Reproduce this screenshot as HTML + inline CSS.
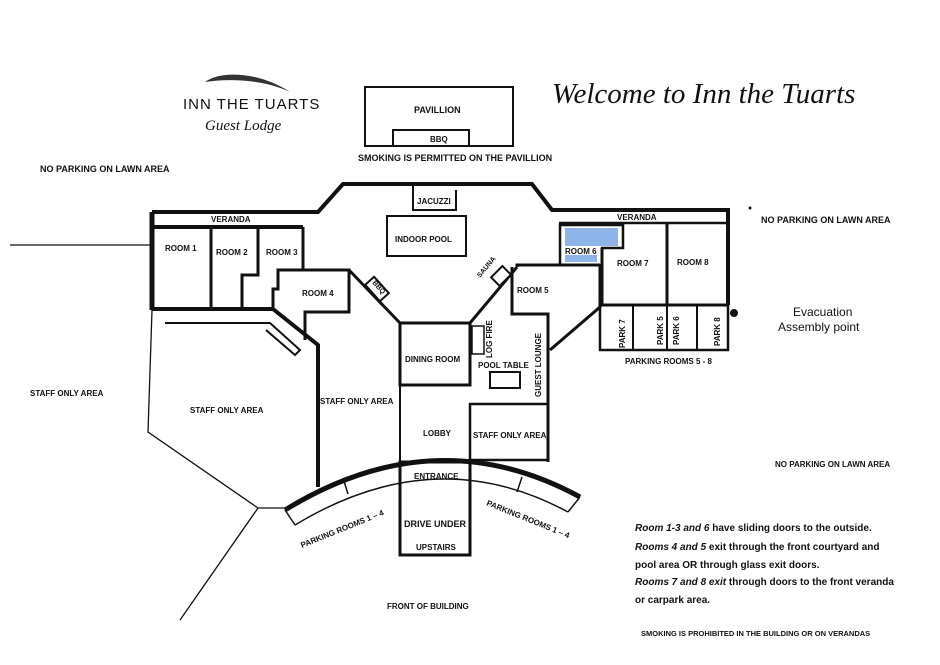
<!DOCTYPE html>
<html><head><meta charset="utf-8"><style>
html,body{margin:0;padding:0;background:#fff}
svg{display:block}
text{font-family:"Liberation Sans",sans-serif;font-weight:bold;fill:#111}
</style></head><body>
<svg width="940" height="665" viewBox="0 0 940 665" xmlns="http://www.w3.org/2000/svg">
<rect x="565" y="228" width="53" height="18" fill="#8fb4ea"/>
<rect x="565" y="255" width="32" height="7" fill="#8fb4ea"/>
<g fill="none" stroke="#111" stroke-linejoin="miter">
<path d="M152,212 L318,212 L343,184 L532,184 L552,210 L728,210 L728,305" stroke-width="4"/>
<path d="M152,212 L152,310" stroke-width="5"/>
<line x1="10" y1="245" x2="152" y2="245" stroke-width="1.2"/>
<path d="M152,227 L303,227" stroke-width="4"/>
<path d="M152,309 L273,309" stroke-width="4"/>
<line x1="211" y1="227" x2="211" y2="309" stroke-width="3"/>
<path d="M258,227 L258,275 L242,275 L242,309" stroke-width="3"/>
<path d="M303,227 L303,270 L278,270 L278,289 L273,289 L273,309" stroke-width="3"/>
<path d="M303,270 L349,270 L349,312 L305,312 L305,340" stroke-width="3"/>
<path d="M349,270 L400,323" stroke-width="3"/>
<rect x="-11" y="-6" width="22" height="12" transform="translate(377,289) rotate(48)" stroke-width="2" fill="#fff"/>
<path d="M273,309 L318,345 L318,487" stroke-width="4"/>
<path d="M165,323 L270,323 L300,350 L295,355 L266,330" stroke-width="2"/>
<path d="M152,310 L148,432 L258,508 L285,508" stroke-width="1.3"/>
<path d="M258,508 L180,620" stroke-width="1.3"/>
<path d="M413,184 L413,210 L456,210 L456,190" stroke-width="2"/>
<rect x="387" y="216" width="79" height="40" stroke-width="2"/>
<rect x="400" y="323" width="70" height="62" stroke-width="3"/>
<line x1="400" y1="385" x2="400" y2="462" stroke-width="2"/>
<rect x="470" y="404" width="78" height="56" stroke-width="2.5"/>
<rect x="472" y="326" width="12" height="28" stroke-width="1.5"/>
<rect x="490" y="372" width="30" height="16" stroke-width="2"/>
<path d="M470,323 L517,267" stroke-width="3"/>
<rect x="-8" y="-6" width="16" height="12" transform="translate(501,276) rotate(-45)" stroke-width="2" fill="#fff"/>
<path d="M517,267 L517,265 L600,265" stroke-width="3"/>
<path d="M512,267 L512,314 L548,314 L548,462" stroke-width="3"/>
<path d="M600,265 L600,307 L550,350" stroke-width="3"/>
<path d="M559,223 L728,223" stroke-width="2.5"/>
<path d="M560,225 L623,225 L623,248 L602,248 L602,265 L560,265 Z" stroke-width="2.5"/>
<line x1="602" y1="248" x2="602" y2="305" stroke-width="3"/>
<line x1="667" y1="223" x2="667" y2="305" stroke-width="3"/>
<line x1="600" y1="305" x2="728" y2="305" stroke-width="3"/>
<rect x="600" y="305" width="128" height="45" stroke-width="2.5"/>
<line x1="633" y1="305" x2="633" y2="350" stroke-width="2"/>
<line x1="667" y1="305" x2="667" y2="350" stroke-width="2"/>
<line x1="697" y1="305" x2="697" y2="350" stroke-width="2"/>
<path d="M285,510 Q435,418 580,497" stroke-width="5"/>
<path d="M295,525 Q435,440 568,512" stroke-width="1.5"/>
<line x1="285" y1="510" x2="295" y2="525" stroke-width="1.5"/>
<line x1="580" y1="497" x2="568" y2="512" stroke-width="1.5"/>
<line x1="343" y1="478" x2="348" y2="494" stroke-width="1.5"/>
<line x1="522" y1="477" x2="517" y2="492" stroke-width="1.5"/>
<rect x="400" y="462" width="70" height="93" stroke-width="3"/>
<rect x="365" y="87" width="148" height="59" stroke-width="2"/>
<rect x="393" y="130" width="76" height="16" stroke-width="2"/>
</g>
<circle cx="734" cy="313" r="4" fill="#111"/>
<circle cx="750" cy="208" r="1.5" fill="#111"/>
<path d="M205,82 C220,70 260,72 290,92 C265,80 230,78 205,82 Z" fill="#333"/>
<text x="183" y="109" font-size="15" style="font-weight:normal;letter-spacing:1px">INN THE TUARTS</text>
<text x="205" y="130" font-size="15" font-style="italic" style="font-weight:normal;font-family:'Liberation Serif',serif" fill="#555">Guest Lodge</text>
<text x="552" y="103" font-size="29" font-style="italic" style="font-family:'Liberation Serif',serif;font-weight:normal">Welcome to Inn the Tuarts</text>
<g font-size="9">
<text x="414" y="113">PAVILLION</text>
<text x="430" y="142" font-size="8">BBQ</text>
<text x="358" y="161">SMOKING IS PERMITTED ON THE PAVILLION</text>
<text x="40" y="172">NO PARKING ON LAWN AREA</text>
<text x="761" y="223">NO PARKING ON LAWN AREA</text>
<text x="417" y="204" font-size="8">JACUZZI</text>
<text x="395" y="242" font-size="8">INDOOR POOL</text>
<text x="211" y="222" font-size="8">VERANDA</text>
<text x="617" y="220" font-size="8">VERANDA</text>
<text x="165" y="251" font-size="8">ROOM 1</text>
<text x="216" y="255" font-size="8">ROOM 2</text>
<text x="266" y="255" font-size="8">ROOM 3</text>
<text x="302" y="296" font-size="8">ROOM 4</text>
<text x="517" y="293" font-size="8">ROOM 5</text>
<text x="565" y="254" font-size="8">ROOM 6</text>
<text x="617" y="266" font-size="8">ROOM 7</text>
<text x="677" y="265" font-size="8">ROOM 8</text>
<text x="405" y="362" font-size="8">DINING ROOM</text>
<text x="478" y="368" font-size="8">POOL TABLE</text>
<text x="320" y="404" font-size="8">STAFF ONLY AREA</text>
<text x="190" y="413" font-size="8">STAFF ONLY AREA</text>
<text x="30" y="396" font-size="8">STAFF ONLY AREA</text>
<text x="423" y="436" font-size="8">LOBBY</text>
<text x="473" y="438" font-size="8">STAFF ONLY AREA</text>
<text x="414" y="479" font-size="8">ENTRANCE</text>
<text x="404" y="527" font-size="9">DRIVE UNDER</text>
<text x="416" y="550" font-size="8">UPSTAIRS</text>
<text x="387" y="609" font-size="8">FRONT OF BUILDING</text>
<text x="625" y="364" font-size="8">PARKING ROOMS 5 - 8</text>
<text x="775" y="467" font-size="8">NO PARKING ON LAWN AREA</text>
<text x="641" y="636" font-size="7.5">SMOKING IS PROHIBITED IN THE BUILDING OR ON VERANDAS</text>
</g>
<g font-size="8">
<text transform="translate(492,358) rotate(-90)">LOG FIRE</text>
<text transform="translate(541,397) rotate(-90)">GUEST LOUNGE</text>
<text transform="translate(625,348) rotate(-90)">PARK 7</text>
<text transform="translate(663,345) rotate(-90)">PARK 5</text>
<text transform="translate(679,345) rotate(-90)">PARK 6</text>
<text transform="translate(720,346) rotate(-90)">PARK 8</text>
<text transform="translate(480,278) rotate(-50)" font-size="7">SAUNA</text>
<text transform="translate(372,283) rotate(48)" font-size="7">BBQ</text>
<text transform="translate(302,548) rotate(-22)">PARKING ROOMS 1 – 4</text>
<text transform="translate(486,505) rotate(22)">PARKING ROOMS 1 – 4</text>
</g>
<text x="793" y="316" font-size="12" style="font-weight:normal">Evacuation</text>
<text x="778" y="331" font-size="12" style="font-weight:normal">Assembly point</text>
<g font-size="10">
<text x="635" y="531"><tspan font-style="italic">Room 1-3 and 6</tspan> have sliding doors to the outside.</text>
<text x="635" y="550"><tspan font-style="italic">Rooms 4 and 5</tspan> exit through the front courtyard and</text>
<text x="635" y="568">pool area OR through glass exit doors.</text>
<text x="635" y="585"><tspan font-style="italic">Rooms 7 and 8 exit</tspan> through doors to the front veranda</text>
<text x="635" y="603">or carpark area.</text>
</g>
</svg>
</body></html>
